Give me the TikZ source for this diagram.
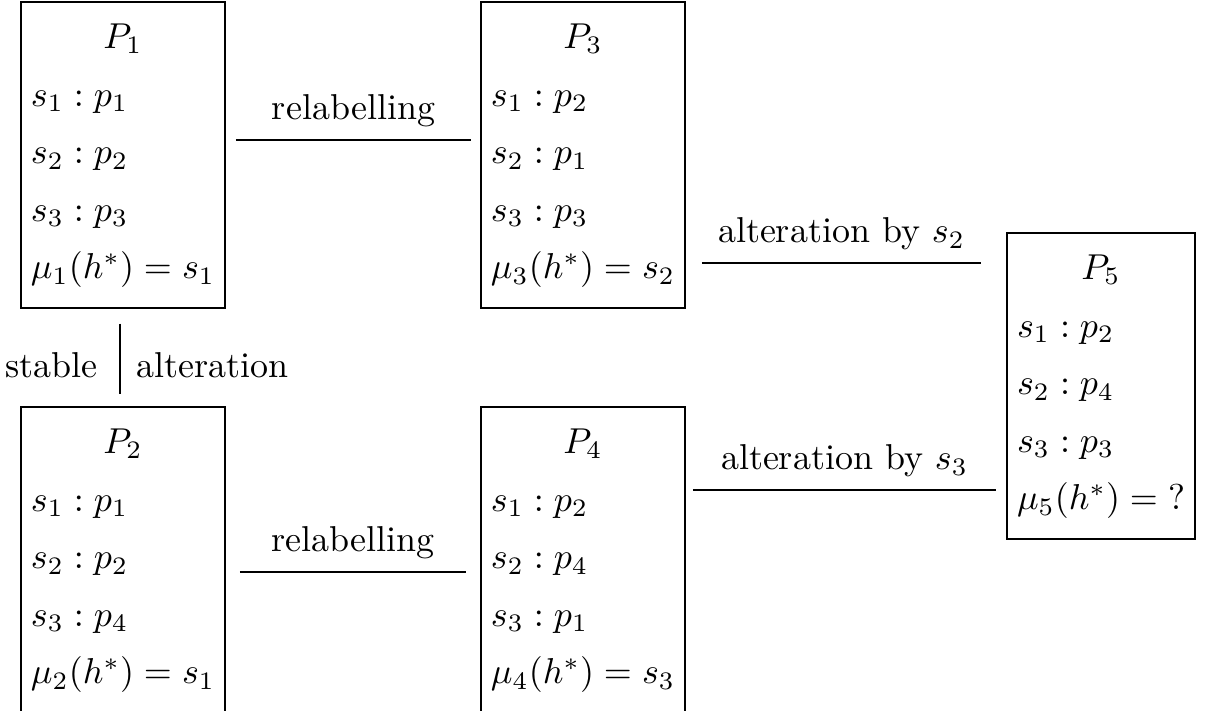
\documentclass[tikz,border=0pt]{standalone}
\usetikzlibrary{positioning, calc}

% one profile box: title, three rows, the choice
\newcommand{\profile}[5]{%
  \begin{tabular}{@{}l@{}}%
    \multicolumn{1}{@{}c@{}}{$#1$}\\[4pt]
    $#2$\\[4pt] $#3$\\[4pt] $#4$\\[4pt] $#5$%
  \end{tabular}}

\begin{document}
\begin{tikzpicture}[
  x=0.278pt, y=-0.278pt,
  pbox/.style={rectangle, draw=black, inner xsep=2.8pt, inner ysep=4.5pt},
  link/.style={draw=black},
  lab/.style={inner sep=3.33pt}
]
  \useasboundingbox (0,0) rectangle (1205,711);

  % profiles
  \node[pbox] (p1) at (123,155)  {\profile{P_1}{s_1 : p_1}{s_2 : p_2}{s_3 : p_3}{\mu_1(h^*) = s_1}};
  \node[pbox] (p3) at (583,155)  {\profile{P_3}{s_1 : p_2}{s_2 : p_1}{s_3 : p_3}{\mu_3(h^*) = s_2}};
  \node[pbox] (p2) at (123,560)  {\profile{P_2}{s_1 : p_1}{s_2 : p_2}{s_3 : p_4}{\mu_2(h^*) = s_1}};
  \node[pbox] (p4) at (583,560)  {\profile{P_4}{s_1 : p_2}{s_2 : p_4}{s_3 : p_1}{\mu_4(h^*) = s_3}};
  \node[pbox] (p5) at (1101,386) {\profile{P_5}{s_1 : p_2}{s_2 : p_4}{s_3 : p_3}{\mu_5(h^*) = \mbox{?}}};

  % steps between profiles
  \draw[link] ($(p1.east)+(10,-15)$) -- node[lab, above]{relabelling} ($(p3.west)+(-9,-15)$);
  \draw[link] ($(p2.east)+(14,12)$) -- node[lab, above]{relabelling} ($(p4.west)+(-14,12)$);
  \draw[link] ($(p3.east)+(16,108)$) coordinate (a2)
    -- node[lab, above]{alteration by $s_2$} ($(p5.west |- a2)+(-25,0)$);
  \draw[link] ($(p4.east)+(7,-70)$) coordinate (a3)
    -- node[lab, above]{alteration by $s_3$} ($(p5.west |- a3)+(-10,0)$);
  \draw[link] ($(p1.south)+(-3,15)$)
    -- node[lab, left, xshift=-2.8pt, yshift=-1.7pt]{stable}
       node[lab, right, xshift=1pt, yshift=-1.7pt]{alteration} ($(p2.north)+(-3,-12)$);
\end{tikzpicture}
\end{document}
